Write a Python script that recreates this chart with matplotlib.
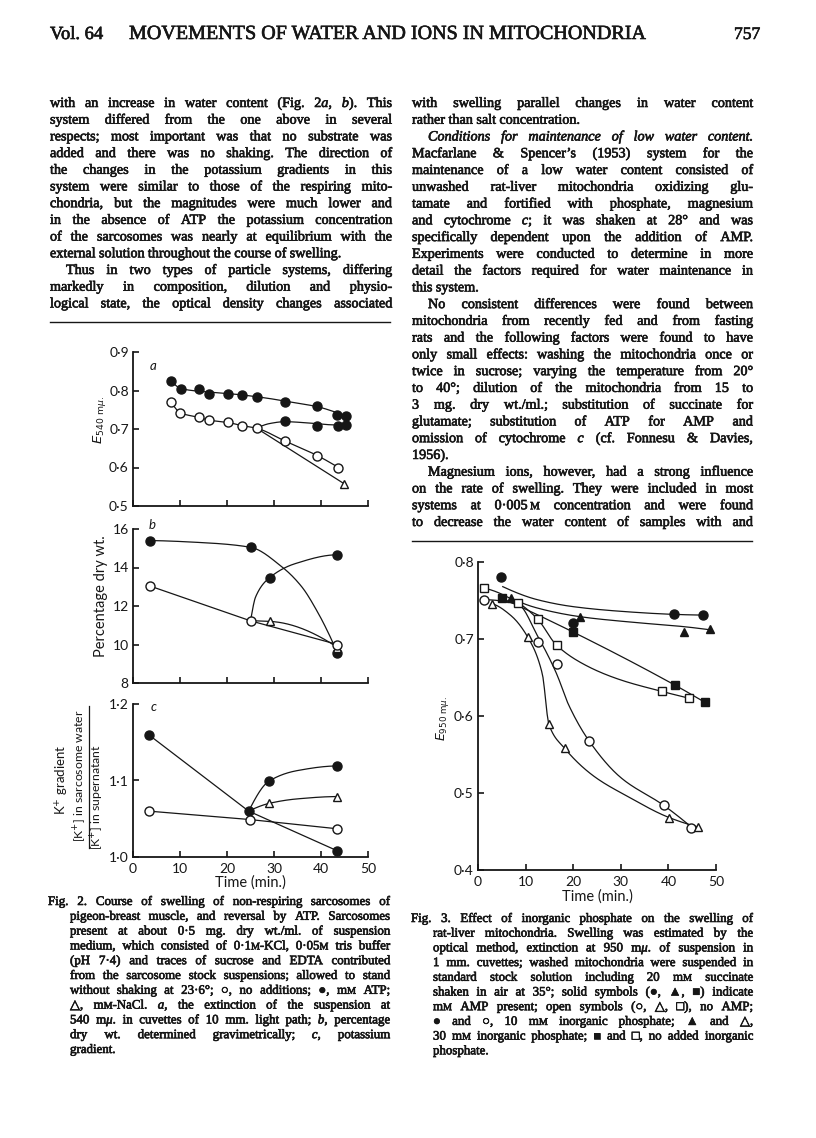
"""Journal page: Figs. 2 and 3 (sarcosome / mitochondria swelling) with the surrounding text."""

import matplotlib

matplotlib.use("Agg")
import matplotlib.pyplot as plt
import numpy as np
from matplotlib import patheffects
from matplotlib.lines import Line2D
from matplotlib.ticker import FuncFormatter, MultipleLocator

W, H = 816, 1138
INK = "#161616"
SERIF = ["Liberation Serif", "DejaVu Serif", "DejaVu Sans"]
SANS = ["Lato", "DejaVu Sans"]

plt.rcParams["font.family"] = SANS
plt.rcParams["mathtext.fontset"] = "dejavusans"

# ---------------------------------------------------------------- data
# Fig. 2a  extinction at 540 mu
A_T_ATP = [8.1, 10.2, 14.1, 16.2, 20.2, 23.1, 26.3, 32.3, 39.2, 43.5, 45.3]
A_E_ATP = [0.825, 0.804, 0.803, 0.792, 0.792, 0.789, 0.783, 0.771, 0.759, 0.737, 0.735]
A_FIT_ATP_T = [8.1, 10.2, 16, 22, 28, 34, 39.2, 43.5, 45.3]
A_FIT_ATP_E = [0.825, 0.805, 0.796, 0.790, 0.781, 0.769, 0.758, 0.742, 0.734]
A_T_NONE = [8.1, 10.1, 14.1, 16.2, 20.2, 23.1, 26.3, 32.3, 39.2, 43.7]
A_E_NONE = [0.770, 0.742, 0.730, 0.723, 0.717, 0.709, 0.702, 0.669, 0.631, 0.600]
A_T_ADDED = [32.3, 39.2, 43.7, 45.3]
A_E_ADDED = [0.721, 0.707, 0.707, 0.710]
A_FIT_ADDED_T = [26.3, 29.0, 32.3, 37.0, 42.0, 45.3]
A_FIT_ADDED_E = [0.702, 0.714, 0.719, 0.716, 0.711, 0.710]
A_T_NACL = [44.9]
A_E_NACL = [0.558]
A_LINE_NACL_T = [26.3, 44.9]
A_LINE_NACL_E = [0.702, 0.558]

# Fig. 2b  percentage dry wt.
B_T_ATP = [3.7, 25.0, 43.5]
B_P_ATP = [15.4, 15.05, 9.55]
B_FIT_ATP_T = [3.7, 13.4, 25.0, 31.7, 35.9, 39.4, 41.9, 43.5]
B_FIT_ATP_P = [15.4, 15.31, 15.05, 14.03, 13.0, 11.63, 10.43, 9.55]
B_T_NONE = [3.7, 25.0, 43.5]
B_P_NONE = [13.03, 11.23, 10.0]
B_T_ADDED = [29.1, 43.5]
B_P_ADDED = [13.48, 14.66]
B_FIT_ADDED_T = [25.0, 26.1, 29.1, 34.5, 43.5]
B_FIT_ADDED_P = [11.23, 12.48, 13.48, 14.2, 14.66]
B_T_NACL = [29.1, 43.5]
B_P_NACL = [11.2, 9.8]
B_FIT_NACL_T = [25.0, 29.1, 43.5]
B_FIT_NACL_P = [11.23, 11.2, 9.85]

# Fig. 2c  K+ gradient
C_T_ATP = [3.3, 24.6, 43.5]
C_K_ATP = [1.160, 1.060, 1.008]
C_T_ADDED = [28.9, 43.5]
C_K_ADDED = [1.099, 1.119]
C_FIT_ADDED_T = [24.6, 28.9, 35.0, 43.5]
C_FIT_ADDED_K = [1.060, 1.099, 1.113, 1.119]
C_T_NACL = [28.9, 43.5]
C_K_NACL = [1.070, 1.079]
C_FIT_NACL_T = [24.6, 28.9, 35.0, 43.5]
C_FIT_NACL_K = [1.060, 1.070, 1.076, 1.079]
C_T_NONE = [3.3, 24.8, 43.3]
C_K_NONE = [1.060, 1.049, 1.037]

# Fig. 3  extinction at 950 mu
F_T_CC = [4.9, 20.0, 41.1, 47.3]            # closed circles
F_E_CC = [0.781, 0.721, 0.732, 0.731]
F_FIT_CC_T = [5.2, 12.5, 20.0, 29.9, 41.1, 47.3]
F_FIT_CC_E = [0.768, 0.751, 0.742, 0.736, 0.732, 0.731]
F_T_CT = [6.9, 21.4, 43.3, 48.7]            # closed triangles
F_E_CT = [0.753, 0.729, 0.709, 0.713]
F_FIT_CT_T = [6.9, 12.0, 21.4, 32.0, 43.3, 48.7]
F_FIT_CT_E = [0.753, 0.741, 0.729, 0.722, 0.716, 0.712]
F_T_CS = [5.0, 20.0, 41.4, 47.6]            # closed squares
F_E_CS = [0.753, 0.709, 0.640, 0.618]
F_T_OS = [1.2, 8.4, 12.5, 16.5, 38.6, 44.4]  # open squares
F_E_OS = [0.766, 0.747, 0.726, 0.692, 0.632, 0.623]
F_FIT_OS_T = [1.2, 8.4, 12.5, 16.5, 22.9, 29.9, 38.6, 44.4]
F_FIT_OS_E = [0.766, 0.747, 0.726, 0.692, 0.665, 0.647, 0.632, 0.623]
F_T_OC = [1.3, 12.6, 16.5, 23.4, 39.0, 44.8]  # open circles
F_E_OC = [0.751, 0.696, 0.667, 0.567, 0.484, 0.454]
F_FIT_OC_T = [1.3, 8.4, 12.6, 16.5, 19.0, 23.4, 30.0, 39.0, 44.8]
F_FIT_OC_E = [0.751, 0.745, 0.703, 0.655, 0.615, 0.567, 0.520, 0.484, 0.456]
F_T_OT = [2.9, 10.4, 14.9, 18.2, 40.2, 46.2]  # open triangles
F_E_OT = [0.746, 0.703, 0.589, 0.558, 0.467, 0.456]
F_FIT_OT_T = [2.9, 7.0, 10.4, 13.5, 14.9, 18.2, 24.3, 31.3, 40.2, 46.2]
F_FIT_OT_E = [0.746, 0.730, 0.703, 0.655, 0.589, 0.558, 0.522, 0.496, 0.468, 0.456]

# ---------------------------------------------------------------- text
LEFT_PARAS = [  # (indent first line, ragged last line, lines)
    (False, True, [
        "with an increase in water content (Fig. 2_a_, _b_). This",
        "system differed from the one above in several",
        "respects; most important was that no substrate was",
        "added and there was no shaking. The direction of",
        "the changes in the potassium gradients in this",
        "system were similar to those of the respiring mito-",
        "chondria, but the magnitudes were much lower and",
        "in the absence of ATP the potassium concentration",
        "of the sarcosomes was nearly at equilibrium with the",
        "external solution throughout the course of swelling.",
    ]),
    (True, False, [
        "Thus in two types of particle systems, differing",
        "markedly in composition, dilution and physio-",
        "logical state, the optical density changes associated",
    ]),
]

RIGHT_PARAS = [
    (False, True, [
        "with swelling parallel changes in water content",
        "rather than salt concentration.",
    ]),
    (True, True, [
        "_Conditions for maintenance of low water content._",
        "Macfarlane & Spencer\u2019s (1953) system for the",
        "maintenance of a low water content consisted of",
        "unwashed rat-liver mitochondria oxidizing glu-",
        "tamate and fortified with phosphate, magnesium",
        "and cytochrome _c_; it was shaken at 28\u00b0 and was",
        "specifically dependent upon the addition of AMP.",
        "Experiments were conducted to determine in more",
        "detail the factors required for water maintenance in",
        "this system.",
    ]),
    (True, True, [
        "No consistent differences were found between",
        "mitochondria from recently fed and from fasting",
        "rats and the following factors were found to have",
        "only small effects: washing the mitochondria once or",
        "twice in sucrose; varying the temperature from 20\u00b0",
        "to 40\u00b0; dilution of the mitochondria from 15 to",
        "3 mg. dry wt./ml.; substitution of succinate for",
        "glutamate; substitution of ATP for AMP and",
        "omission of cytochrome _c_ (cf. Fonnesu & Davies,",
        "1956).",
    ]),
    (True, False, [
        "Magnesium ions, however, had a strong influence",
        "on the rate of swelling. They were included in most",
        "systems at 0\u00b7005\u2009^M^ concentration and were found",
        "to decrease the water content of samples with and",
    ]),
]

FIG2_CAPTION = [
    "Fig. 2. Course of swelling of non-respiring sarcosomes of",
    "pigeon-breast muscle, and reversal by ATP. Sarcosomes",
    "present at about 0\u00b75 mg. dry wt./ml. of suspension",
    "medium, which consisted of 0\u00b71^M^-KCl, 0\u00b705^M^ tris buffer",
    "(pH 7\u00b74) and traces of sucrose and EDTA contributed",
    "from the sarcosome stock suspensions; allowed to stand",
    "without shaking at 23\u00b76\u00b0; \u25cb, no additions; \u25cf, m^M^ ATP;",
    "\u25b3, m^M^-NaCl. _a_, the extinction of the suspension at",
    "540 m_\u03bc_. in cuvettes of 10 mm. light path; _b_, percentage",
    "dry wt. determined gravimetrically; _c_, potassium",
    "gradient.",
]

FIG3_CAPTION = [
    "Fig. 3. Effect of inorganic phosphate on the swelling of",
    "rat-liver mitochondria. Swelling was estimated by the",
    "optical method, extinction at 950 m_\u03bc_. of suspension in",
    "1 mm. cuvettes; washed mitochondria were suspended in",
    "standard stock solution including 20 m^M^ succinate",
    "shaken in air at 35\u00b0; solid symbols (\u25cf, \u25b2, \u25a0) indicate",
    "m^M^ AMP present; open symbols (\u25cb, \u25b3, \u25a1), no AMP;",
    "\u25cf and \u25cb, 10 m^M^ inorganic phosphate; \u25b2 and \u25b3,",
    "30 m^M^ inorganic phosphate; \u25a0 and \u25a1, no added inorganic",
    "phosphate.",
]

# ---------------------------------------------------------------- helpers
fig = plt.figure(figsize=(W / 100, H / 100), dpi=100)
fig.patch.set_facecolor("white")
renderer = fig.canvas.get_renderer()
BOLDEN = [patheffects.withStroke(linewidth=0.45, foreground=INK)]
_wcache = {}


def fx(x):
    return x / W


def fy(y):
    return 1 - y / H


def measure(s, italic, size):
    key = (s, italic, size)
    if key not in _wcache:
        t = fig.text(0, 0, s, fontsize=size, family=SERIF,
                     fontstyle="italic" if italic else "normal")
        _wcache[key] = t.get_window_extent(renderer).width
        t.remove()
    return _wcache[key]


def parse_words(text, size):
    # "_..._" italic (may span words), "^..^" small capitals
    words, ital, small = [], False, False
    for word in text.split(" "):
        pcs, buf = [], ""
        for ch in word:
            if ch in "_^":
                if buf:
                    pcs.append((buf, ital, size * 0.78 if small else size))
                    buf = ""
                if ch == "_":
                    ital = not ital
                else:
                    small = not small
            else:
                buf += ch
        if buf:
            pcs.append((buf, ital, size * 0.78 if small else size))
        words.append(pcs)
    return words


def set_line(text, x0, x1, base, size, justify):
    words = parse_words(text, size)
    widths = [sum(measure(*p) for p in pcs) for pcs in words]
    space = measure("n n", False, size) - measure("nn", False, size)
    gap = space
    if justify and len(words) > 1:
        gap = (x1 - x0 - sum(widths)) / (len(words) - 1)
    x = x0
    for pcs, w in zip(words, widths):
        for s, ital, sz in pcs:
            fig.text(fx(x), fy(base), s, fontsize=sz, family=SERIF, color=INK,
                     fontstyle="italic" if ital else "normal",
                     ha="left", va="baseline", path_effects=BOLDEN)
            x += measure(s, ital, sz)
        x += gap


def set_column(paras, x0, x1, top, step, size, indent=16):
    i = 0
    for ind, ragged, lines in paras:
        for j, line in enumerate(lines):
            last = j == len(lines) - 1
            set_line(line, x0 + (indent if ind and j == 0 else 0), x1,
                     top + i * step + 4, size, not (last and ragged))
            i += 1


def set_caption(lines, x0, x1, hang, top, step, size):
    for j, line in enumerate(lines):
        set_line(line, x0 if j == 0 else x0 + hang, x1, top + j * step + 4,
                 size, j < len(lines) - 1)


def fit_text(s, x0, x1, base):
    t = fig.text(fx(x0), fy(base), s, fontsize=10, family=SERIF, color=INK,
                 ha="left", va="baseline", path_effects=BOLDEN)
    w = t.get_window_extent(renderer).width
    t.set_fontsize(10 * (x1 - x0) / w)


def pchip(x, y, num=150):
    x = np.asarray(x, float)
    y = np.asarray(y, float)
    h = np.diff(x)
    d = np.diff(y) / h
    n = len(x)
    m = np.zeros(n)
    if n == 2:
        m[:] = d[0]
    else:
        for k in range(1, n - 1):
            if d[k - 1] * d[k] > 0:
                w1, w2 = 2 * h[k] + h[k - 1], h[k] + 2 * h[k - 1]
                m[k] = (w1 + w2) / (w1 / d[k - 1] + w2 / d[k])

        def end(h0, h1, d0, d1):
            s = ((2 * h0 + h1) * d0 - h0 * d1) / (h0 + h1)
            if np.sign(s) != np.sign(d0):
                return 0.0
            if np.sign(d0) != np.sign(d1) and abs(s) > 3 * abs(d0):
                return 3 * d0
            return s

        m[0] = end(h[0], h[1], d[0], d[1])
        m[-1] = end(h[-1], h[-2], d[-1], d[-2])
    xs = np.linspace(x[0], x[-1], num)
    i = np.clip(np.searchsorted(x, xs) - 1, 0, n - 2)
    t = (xs - x[i]) / h[i]
    ys = ((2 * t**3 - 3 * t**2 + 1) * y[i] + (t**3 - 2 * t**2 + t) * h[i] * m[i]
          + (-2 * t**3 + 3 * t**2) * y[i + 1] + (t**3 - t**2) * h[i] * m[i + 1])
    return xs, ys


def axes_px(x0, y0, x1, y1):
    return fig.add_axes([x0 / W, 1 - y1 / H, (x1 - x0) / W, (y1 - y0) / H])


def dotfmt(nd):
    return FuncFormatter(lambda v, _: f"{v:.{nd}f}".replace(".", "\u00b7"))


def style(ax, ylim, ystep, fmt, xlabels):
    ax.set_xlim(0, 50)
    ax.set_ylim(*ylim)
    ax.xaxis.set_major_locator(MultipleLocator(10))
    ax.yaxis.set_major_locator(MultipleLocator(ystep))
    ax.yaxis.set_major_formatter(fmt)
    ax.patch.set_alpha(0)
    for side in ("top", "right"):
        ax.spines[side].set_visible(False)
    for side in ("left", "bottom"):
        ax.spines[side].set_color(INK)
        ax.spines[side].set_linewidth(1.3)
    ax.tick_params(direction="in", length=4, width=1.2, colors=INK,
                   labelsize=10, pad=4, labelbottom=xlabels)
    ax.tick_params(axis="y", pad=3)


def curve(ax, t, v):
    xs, ys = pchip(t, v)
    ax.plot(xs, ys, color=INK, lw=0.9, zorder=2, clip_on=False)


def pts(ax, t, v, marker, filled, ms=6.5):
    ax.plot(t, v, ls="none", marker=marker, ms=ms, mew=1.0, mec=INK,
            mfc=INK if filled else "white", zorder=3, clip_on=False)


def vlabel(x, y, s, size=10):
    fig.text(fx(x), fy(y), s, fontsize=size, rotation=90, ha="center",
             va="center", color=INK)


# ---------------------------------------------------------------- page text
fit_text("Vol. 64", 50, 103, 39)
fit_text("MOVEMENTS OF WATER AND IONS IN MITOCHONDRIA", 129, 647, 39)
fit_text("757", 734, 760, 39)

BODY = 10.2
set_column(LEFT_PARAS, 50, 392, 103, 16.7, BODY)
set_column(RIGHT_PARAS, 412, 753, 103, 16.76, BODY)
fig.add_artist(Line2D([fx(50), fx(390)], [fy(322)] * 2, lw=1.0, color=INK))
fig.add_artist(Line2D([fx(412), fx(752)], [fy(541)] * 2, lw=1.0, color=INK))

CAP = 9.3
set_caption(FIG2_CAPTION, 48, 390, 22, 901, 14.8, CAP)
set_caption(FIG3_CAPTION, 411, 753, 22, 918, 14.7, CAP)

# ---------------------------------------------------------------- Fig. 2
ax_a = axes_px(133, 352, 368, 506)
style(ax_a, (0.5, 0.9), 0.1, dotfmt(1), False)
curve(ax_a, A_FIT_ATP_T, A_FIT_ATP_E)
curve(ax_a, A_T_NONE, A_E_NONE)
curve(ax_a, A_FIT_ADDED_T, A_FIT_ADDED_E)
ax_a.plot(A_LINE_NACL_T, A_LINE_NACL_E, color=INK, lw=0.9, zorder=2)
pts(ax_a, A_T_ATP, A_E_ATP, "o", True)
pts(ax_a, A_T_NONE, A_E_NONE, "o", False)
pts(ax_a, A_T_ADDED, A_E_ADDED, "o", True)
pts(ax_a, A_T_NACL, A_E_NACL, "^", False, 6)

ax_b = axes_px(133, 529, 368, 683)
style(ax_b, (8, 16), 2, dotfmt(0), False)
curve(ax_b, B_FIT_ATP_T, B_FIT_ATP_P)
ax_b.plot(B_T_NONE, B_P_NONE, color=INK, lw=0.9, zorder=2)
curve(ax_b, B_FIT_ADDED_T, B_FIT_ADDED_P)
curve(ax_b, B_FIT_NACL_T, B_FIT_NACL_P)
pts(ax_b, B_T_ATP, B_P_ATP, "o", True)
pts(ax_b, B_T_ADDED, B_P_ADDED, "o", True)
pts(ax_b, B_T_NACL, B_P_NACL, "^", False, 6)
pts(ax_b, B_T_NONE, B_P_NONE, "o", False)

ax_c = axes_px(133, 704, 368, 857)
style(ax_c, (1.0, 1.2), 0.1, dotfmt(1), True)
ax_c.plot(C_T_ATP, C_K_ATP, color=INK, lw=0.9, zorder=2)
ax_c.plot(C_T_NONE, C_K_NONE, color=INK, lw=0.9, zorder=2)
curve(ax_c, C_FIT_ADDED_T, C_FIT_ADDED_K)
curve(ax_c, C_FIT_NACL_T, C_FIT_NACL_K)
pts(ax_c, C_T_ATP, C_K_ATP, "o", True)
pts(ax_c, C_T_ADDED, C_K_ADDED, "o", True)
pts(ax_c, C_T_NACL, C_K_NACL, "^", False, 6)
pts(ax_c, C_T_NONE, C_K_NONE, "o", False)

fig.text(fx(250), fy(883), "Time (min.)", fontsize=10.5, ha="center", va="center", color=INK)
for x, y, s in ((153, 366, "a"), (152, 525, "b"), (154, 707, "c")):
    fig.text(fx(x), fy(y), s, fontsize=9.5, style="italic", ha="center", va="center", color=INK)
vlabel(100, 420, r"$E_{540\ \mathrm{m}\mu.}$", 9.5)
vlabel(101, 596, "Percentage dry wt.", 10.5)
vlabel(62, 780, r"K$^{+}$ gradient", 9.5)
vlabel(80, 776, r"[K$^{+}$] in sarcosome water", 8.8)
vlabel(97, 797, r"[K$^{+}$] in supernatant", 8.8)
fig.add_artist(Line2D([fx(88.5)] * 2, [fy(706), fy(848)], lw=0.9, color=INK))

# ---------------------------------------------------------------- Fig. 3
ax3 = axes_px(478, 562, 716, 870)
style(ax3, (0.4, 0.8), 0.1, dotfmt(1), True)
curve(ax3, F_FIT_CC_T, F_FIT_CC_E)
curve(ax3, F_FIT_CT_T, F_FIT_CT_E)
curve(ax3, F_T_CS, F_E_CS)
curve(ax3, F_FIT_OS_T, F_FIT_OS_E)
curve(ax3, F_FIT_OC_T, F_FIT_OC_E)
curve(ax3, F_FIT_OT_T, F_FIT_OT_E)
pts(ax3, F_T_CC, F_E_CC, "o", True)
pts(ax3, F_T_CT, F_E_CT, "^", True, 6)
pts(ax3, F_T_CS, F_E_CS, "s", True, 5.3)
pts(ax3, F_T_OS, F_E_OS, "s", False, 5.3)
pts(ax3, F_T_OC, F_E_OC, "o", False)
pts(ax3, F_T_OT, F_E_OT, "^", False, 6)
fig.text(fx(597), fy(897), "Time (min.)", fontsize=10.5, ha="center", va="center", color=INK)
vlabel(443, 718, r"$E_{950\ \mathrm{m}\mu.}$", 9)

fig.savefig("out.png", dpi=100, facecolor="white")
